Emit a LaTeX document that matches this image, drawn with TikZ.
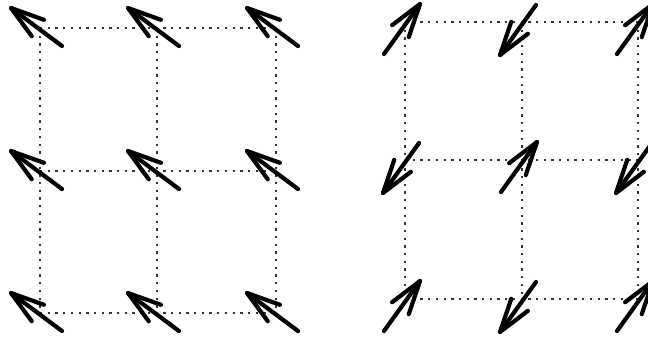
\documentclass[tikz,border=0pt]{standalone}
\usetikzlibrary{calc}
\tikzset{
  dotline/.style={draw=black!80, line width=2.3pt, dash pattern=on 2.3pt off 5.4pt},
  spin/.style={draw=black, line width=4.2pt, line cap=round, line join=round}
}
\newcommand\spinarrow[6]{%
  \coordinate (T) at ($(#1,#2)+(#3,#4)$);
  \coordinate (H) at ($(#1,#2)+(#5,#6)$);
  \draw[spin] (T) -- (H);
  \draw[spin] ($(H)!35pt!17:(T)$) -- (H) -- ($(H)!35pt!-17:(T)$);
}
\begin{document}
\begin{tikzpicture}[x=1pt,y=-1pt]
\useasboundingbox (0,0) rectangle (648,343);
% left grid
\foreach \yy in {28,171,313} \draw[dotline] (40,\yy) -- (276,\yy);
\foreach \xx in {40,157,276} \draw[dotline] (\xx,28) -- (\xx,313);
% right grid
\foreach \yy in {22,160,299} \draw[dotline] (405,\yy) -- (638,\yy);
\foreach \xx in {405,522,638} \draw[dotline] (\xx,22) -- (\xx,299);
% left arrows
\foreach \xx in {40,157,276}
  \foreach \yy in {28,171,313}
    {\spinarrow{\xx}{\yy}{22}{18}{-29}{-20}}
% right arrows: up
\foreach \xx/\yy in {405/22,638/22,522/160,405/299,638/299}
  {\spinarrow{\xx}{\yy}{-21}{32}{15}{-18}}
% right arrows: down
\foreach \xx/\yy in {522/22,405/160,638/160,522/299}
  {\spinarrow{\xx}{\yy}{14}{-17}{-22}{33}}
\end{tikzpicture}
\end{document}
